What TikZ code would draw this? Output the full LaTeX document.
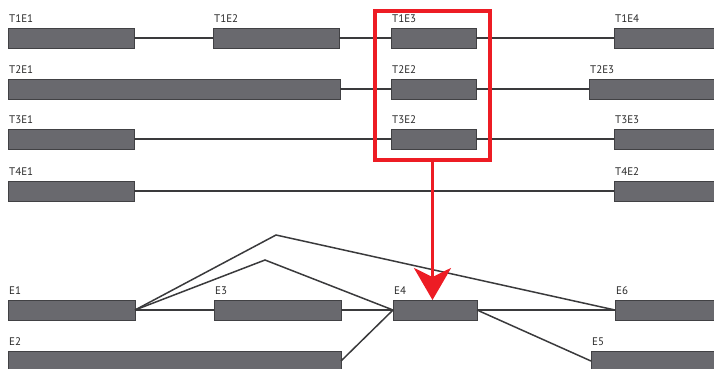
\documentclass[tikz,border=0pt]{standalone}
\usepackage{fontspec}
\setmainfont{PT Sans}
\usetikzlibrary{arrows.meta}
\definecolor{boxfill}{RGB}{105,105,110}
\definecolor{boxline}{RGB}{65,65,68}
\definecolor{conn}{RGB}{58,58,60}
\definecolor{hired}{RGB}{237,28,36}
\definecolor{lbl}{RGB}{40,40,40}
\tikzset{
  exon/.style={draw=boxline, fill=boxfill, line width=0.9pt, inner sep=0pt, outer sep=0pt, minimum height=20pt, anchor=north west},
  conn/.style={draw=conn, line width=1.5pt},
  elabel/.style={font=\fontsize{11}{13}\selectfont, text=lbl, inner sep=0pt, anchor=base west},
}
\begin{document}
\begin{tikzpicture}[x=1pt,y=-1pt]
\useasboundingbox (0,0) rectangle (714,368);
\clip (0,0) rectangle (714,368);
% row 1
\node[exon, minimum width=126pt] (t1e1) at (8,28) {};
\node[exon, minimum width=126pt] (t1e2) at (213,28) {};
\node[exon, minimum width=85pt] (t1e3) at (391,28) {};
\node[exon, minimum width=104pt] (t1e4) at (614,28) {};
% row 2
\node[exon, minimum width=332pt] (t2e1) at (8,79) {};
\node[exon, minimum width=85pt] (t2e2) at (391,79) {};
\node[exon, minimum width=129pt] (t2e3) at (589,79) {};
% row 3
\node[exon, minimum width=126pt] (t3e1) at (8,129) {};
\node[exon, minimum width=85pt] (t3e2) at (391,129) {};
\node[exon, minimum width=104pt] (t3e3) at (614,129) {};
% row 4
\node[exon, minimum width=126pt] (t4e1) at (8,181) {};
\node[exon, minimum width=104pt] (t4e2) at (614,181) {};
% bottom
\node[exon, minimum width=127pt] (e1) at (8,300) {};
\node[exon, minimum width=127pt] (e3) at (214,300) {};
\node[exon, minimum width=84pt] (e4) at (393,300) {};
\node[exon, minimum width=103pt] (e6) at (615,300) {};
\node[exon, minimum width=333pt] (e2) at (8,351) {};
\node[exon, minimum width=127pt] (e5) at (591,351) {};
% labels
\foreach \n/\t in {t1e1/T1E1,t1e2/T1E2,t1e3/T1E3,t1e4/T1E4,t2e1/T2E1,t2e2/T2E2,t2e3/T2E3,t3e1/T3E1,t3e2/T3E2,t3e3/T3E3,t4e1/T4E1,t4e2/T4E2,e1/E1,e2/E2,e3/E3,e4/E4,e5/E5,e6/E6}
  \node[elabel] (lb-\n) at ([xshift=1pt,yshift=6pt]\n.north west) {\t};
% connectors
\draw[conn] (t1e1.east) -- (t1e2.west);
\draw[conn] (t1e2.east) -- (t1e3.west);
\draw[conn] (t1e3.east) -- (t1e4.west);
\draw[conn] (t2e1.east) -- (t2e2.west);
\draw[conn] (t2e2.east) -- (t2e3.west);
\draw[conn] (t3e1.east) -- (t3e2.west);
\draw[conn] (t3e2.east) -- (t3e3.west);
\draw[conn] (t4e1.east) -- (t4e2.west);
\coordinate (pk1) at (276,235);
\coordinate (pk2) at (265,260);
\draw[conn] (e1.east) -- (e3.west);
\draw[conn] (e3.east) -- (e4.west);
\draw[conn] (e4.east) -- (e6.west);
\draw[conn] (e1.east) -- (pk1) -- (e6.west);
\draw[conn] (e1.east) -- (pk2) -- (e4.west);
\draw[conn] (e2.east) -- (e4.west);
\draw[conn] (e4.east) -- (e5.west);
% highlight
\node[draw=hired, line width=3.8pt, minimum width=115pt, minimum height=149pt, inner sep=0pt] (hl) at (432.5,85.5) {};
\draw[hired, line width=3.5pt, -{Stealth[length=32pt, width=37pt, inset=9pt]}] (hl.south) -- (hl.south |- e4.north);
\end{tikzpicture}
\end{document}
